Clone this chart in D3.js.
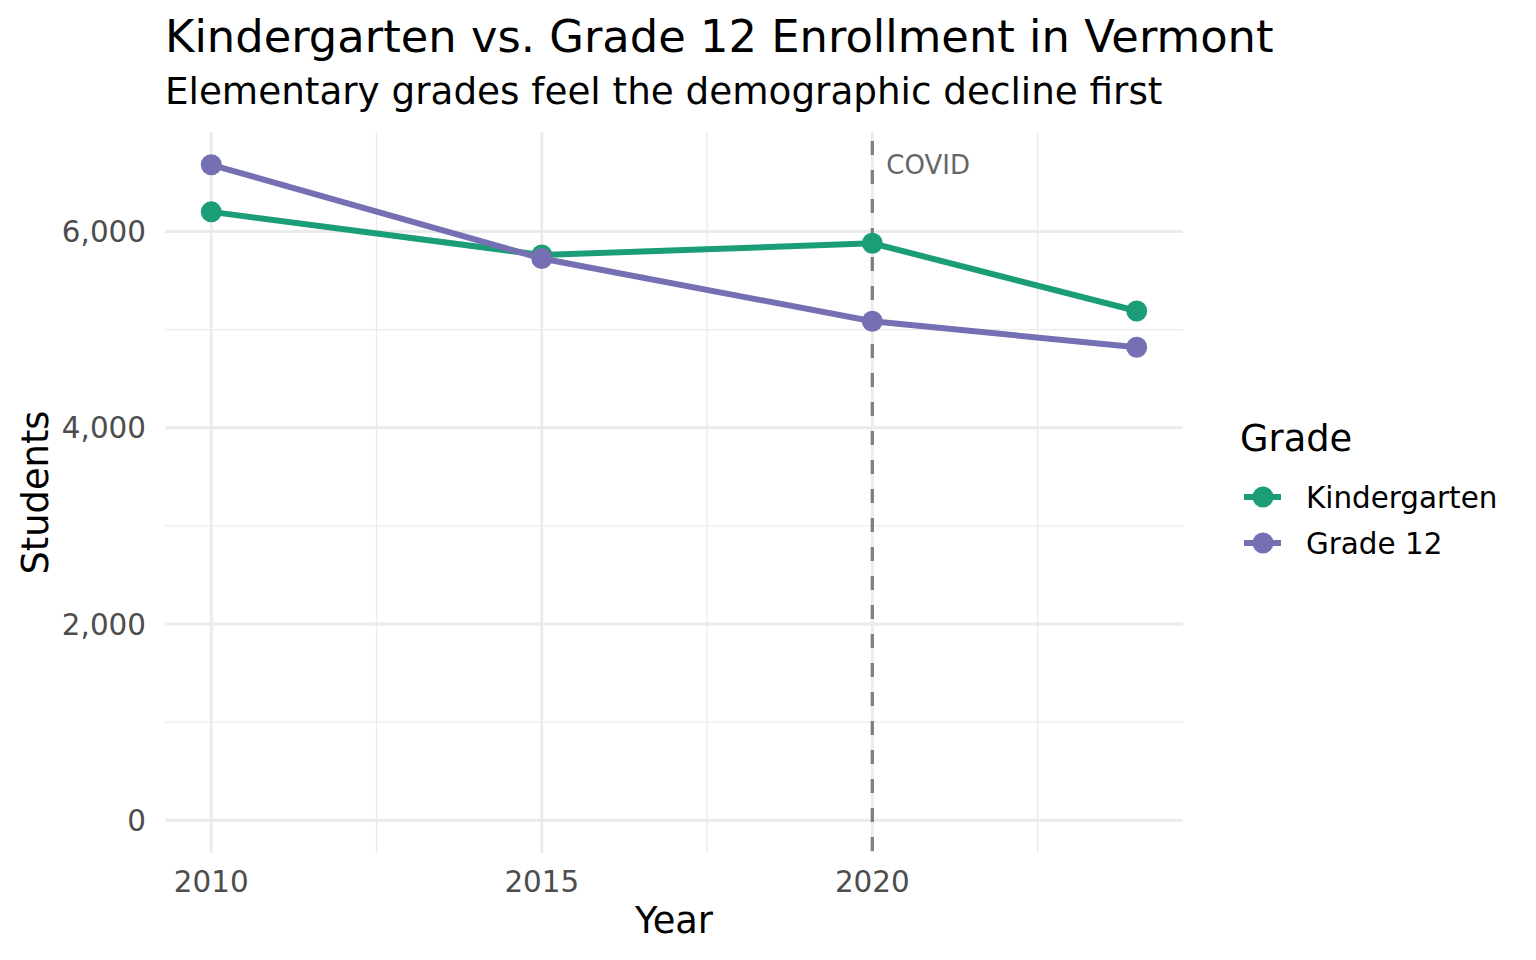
<!DOCTYPE html>
<html>
<head>
<meta charset="utf-8">
<script src="https://cdn.jsdelivr.net/npm/d3@7"></script>
<style>
  body { margin: 0; background: #fff; }
  text { font-family: "DejaVu Sans", sans-serif; }
</style>
</head>
<body>
<svg id="chart" width="1536" height="960"></svg>
<script>
// data
const years = [2010, 2015, 2020, 2024];
const kindergarten = [6200, 5760, 5880, 5190];
const grade12 = [6680, 5725, 5085, 4820];
const seriesNames = ["Kindergarten", "Grade 12"];
const seriesColors = ["#1B9E77", "#7570B3"];
const yTicks = [0, 2000, 4000, 6000];
const yMinor = [1000, 3000, 5000];
const xTicks = [2010, 2015, 2020];
const xMinor = [2012.5, 2017.5, 2022.5];
const covidYear = 2020;

const svg = d3.select("#chart");
const panel = { left: 165, right: 1183, top: 132, bottom: 853 };

const x = d3.scaleLinear()
    .domain([2010 - 0.7, 2024 + 0.7])
    .range([panel.left, panel.right]);
const yMax = d3.max(grade12.concat(kindergarten));
const y = d3.scaleLinear()
    .domain([-yMax * 0.05, yMax * 1.05])
    .range([panel.bottom, panel.top]);

// grid
const grid = svg.append("g");
grid.selectAll(".ymin").data(yMinor).enter().append("line")
    .attr("x1", panel.left).attr("x2", panel.right)
    .attr("y1", d => y(d)).attr("y2", d => y(d))
    .attr("stroke", "#ebebeb").attr("stroke-width", 1.4);
grid.selectAll(".xmin").data(xMinor).enter().append("line")
    .attr("y1", panel.top).attr("y2", panel.bottom)
    .attr("x1", d => x(d)).attr("x2", d => x(d))
    .attr("stroke", "#ebebeb").attr("stroke-width", 1.4);
grid.selectAll(".ymaj").data(yTicks).enter().append("line")
    .attr("x1", panel.left).attr("x2", panel.right)
    .attr("y1", d => y(d)).attr("y2", d => y(d))
    .attr("stroke", "#ebebeb").attr("stroke-width", 2.8);
grid.selectAll(".xmaj").data(xTicks).enter().append("line")
    .attr("y1", panel.top).attr("y2", panel.bottom)
    .attr("x1", d => x(d)).attr("x2", d => x(d))
    .attr("stroke", "#ebebeb").attr("stroke-width", 2.8);

// axes labels
const fmt = d3.format(",");
svg.append("g").selectAll("text").data(yTicks).enter().append("text")
    .attr("x", panel.left - 19).attr("y", d => y(d))
    .attr("dy", "0.36em").attr("text-anchor", "end")
    .attr("font-size", 29.4).attr("fill", "#4d4d4d")
    .text(d => fmt(d));
svg.append("g").selectAll("text").data(xTicks).enter().append("text")
    .attr("x", d => x(d)).attr("y", 892)
    .attr("text-anchor", "middle")
    .attr("font-size", 29.4).attr("fill", "#4d4d4d")
    .text(d => d);

svg.append("text").attr("x", (panel.left + panel.right) / 2).attr("y", 933)
    .attr("text-anchor", "middle").attr("font-size", 36.8).attr("fill", "#000")
    .text("Year");
svg.append("text")
    .attr("transform", `translate(48,${(panel.top + panel.bottom) / 2}) rotate(-90)`)
    .attr("text-anchor", "middle").attr("font-size", 36.8).attr("fill", "#000")
    .text("Students");

// COVID marker
svg.append("line")
    .attr("x1", x(covidYear)).attr("x2", x(covidYear))
    .attr("y1", panel.top).attr("y2", panel.bottom)
    .attr("stroke", "#7f7f7f").attr("stroke-width", 3.3)
    .attr("stroke-dasharray", "14,15")
    .attr("stroke-dashoffset", -9);
svg.append("text")
    .attr("x", x(covidYear) + 14).attr("y", 174)
    .attr("font-size", 26).attr("fill", "#666666")
    .text("COVID");

// lines and points
const series = [kindergarten, grade12];
const line = d3.line().x((d, i) => x(years[i])).y(d => y(d));
series.forEach((vals, s) => {
    svg.append("path").datum(vals)
        .attr("d", line)
        .attr("fill", "none")
        .attr("stroke", seriesColors[s])
        .attr("stroke-width", 6);
    svg.append("g").selectAll("circle").data(vals).enter().append("circle")
        .attr("cx", (d, i) => x(years[i]))
        .attr("cy", d => y(d))
        .attr("r", 10.5)
        .attr("fill", seriesColors[s]);
});

// titles
svg.append("text").attr("x", 165).attr("y", 52)
    .attr("font-size", 44.8).attr("fill", "#000")
    .text("Kindergarten vs. Grade 12 Enrollment in Vermont");
svg.append("text").attr("x", 165).attr("y", 104)
    .attr("font-size", 37.3).attr("fill", "#000")
    .text("Elementary grades feel the demographic decline first");

// legend
const legend = svg.append("g");
legend.append("text").attr("x", 1240).attr("y", 451)
    .attr("font-size", 36.8).attr("fill", "#000").text("Grade");
seriesNames.forEach((name, i) => {
    const ly = 497 + i * 46;
    legend.append("line")
        .attr("x1", 1244).attr("x2", 1281).attr("y1", ly).attr("y2", ly)
        .attr("stroke", seriesColors[i]).attr("stroke-width", 6);
    legend.append("circle").attr("cx", 1263).attr("cy", ly).attr("r", 10.5)
        .attr("fill", seriesColors[i]);
    legend.append("text").attr("x", 1306).attr("y", ly).attr("dy", "0.36em")
        .attr("font-size", 29.4).attr("fill", "#000").text(name);
});
</script>
</body>
</html>
